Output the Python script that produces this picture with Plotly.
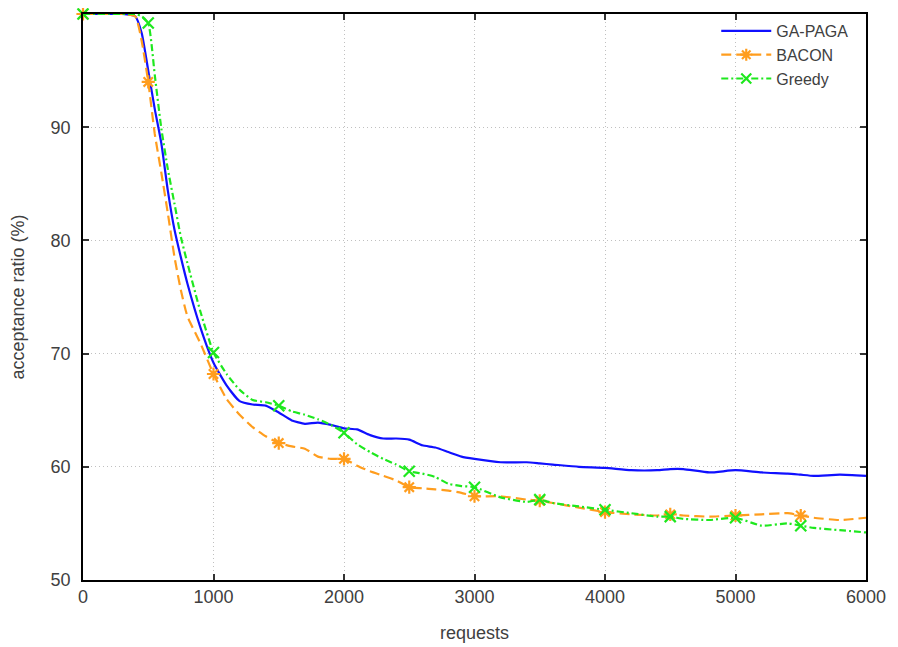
import plotly.graph_objects as go

# ---- data ----
requests = [0, 100, 200, 300, 400,
            450, 500, 550, 600, 650, 700, 750, 800,
            900, 1000, 1100, 1200, 1300, 1400, 1500, 1600, 1700, 1800, 1900, 2000,
            2100, 2200, 2300, 2400, 2500, 2600, 2700, 2800, 2900, 3000,
            3200, 3400, 3500, 3600, 3800, 4000,
            4200, 4400, 4500, 4600, 4800, 5000,
            5200, 5400, 5500, 5600, 5800, 6000]

ga_paga = [100, 100, 100, 100, 99.8,
           98.3, 95.0, 91.6, 88.6, 84.4, 81.0, 78.5, 76.2,
           72.3, 69.2, 67.2, 65.8, 65.5, 65.4, 64.8, 64.1, 63.8, 63.9, 63.7, 63.4,
           63.3, 62.8, 62.5, 62.5, 62.4, 61.9, 61.7, 61.3, 60.9, 60.7,
           60.4, 60.4, 60.3, 60.2, 60.0, 59.9,
           59.7, 59.7, 59.8, 59.8, 59.5, 59.7,
           59.5, 59.4, 59.3, 59.2, 59.3, 59.2]

bacon = [100, 100, 100, 100, 99.8,
         97.6, 94.0, 89.4, 86.0, 82.4, 78.6, 75.6, 73.3,
         70.9, 68.2, 66.0, 64.6, 63.5, 62.7, 62.1, 61.8, 61.6, 60.9, 60.7, 60.7,
         60.1, 59.6, 59.2, 58.8, 58.2, 58.1, 58.0, 57.9, 57.7, 57.4,
         57.4, 57.1, 57.0, 56.8, 56.4, 56.0,
         55.8, 55.7, 55.8, 55.7, 55.6, 55.7,
         55.8, 55.9, 55.7, 55.5, 55.3, 55.5]

greedy = [100, 100, 100, 100, 100,
          99.8, 99.2, 94.6, 89.9, 86.3, 83.3, 80.3, 78.0,
          73.7, 70.1, 68.2, 66.8, 65.9, 65.7, 65.4, 64.9, 64.6, 64.2, 63.7, 63.0,
          62.0, 61.3, 60.7, 60.2, 59.6, 59.4, 59.1, 58.5, 58.3, 58.2,
          57.3, 56.9, 57.1, 56.8, 56.5, 56.2,
          55.9, 55.6, 55.6, 55.4, 55.3, 55.5,
          54.8, 55.0, 54.8, 54.6, 54.4, 54.2]

marker_requests = [0, 500, 1000, 1500, 2000, 2500, 3000, 3500, 4000, 4500, 5000, 5500]

x_ticks = [0, 1000, 2000, 3000, 4000, 5000, 6000]
y_ticks = [50, 60, 70, 80, 90, 100]

# ---- styles ----
BLUE = "#1010ff"
ORANGE = "#ff9d1e"
GREEN = "#1ee81e"
FONT = "Liberation Sans, Arial, sans-serif"
TXT = "#404040"


def pick(series, xs):
    lookup = dict(zip(requests, series))
    return [lookup[v] for v in xs]


series = [
    ("GA-PAGA", ga_paga, BLUE, "solid", None),
    ("BACON", bacon, ORANGE, "10px,5px", "asterisk-open"),
    ("Greedy", greedy, GREEN, "7px,3px,2px,3px", "x-thin-open"),
]

fig = go.Figure()

for name, ys, color, dash, symbol in series:
    fig.add_trace(go.Scatter(
        x=requests, y=ys, mode="lines", name=name, legendgroup=name,
        showlegend=False,
        line=dict(color=color, width=2.2, dash=dash, shape="spline", smoothing=0.5),
        hoverinfo="skip"))
    if symbol:
        fig.add_trace(go.Scatter(
            x=marker_requests, y=pick(ys, marker_requests), mode="markers",
            name=name, legendgroup=name, showlegend=False,
            marker=dict(symbol=symbol, size=11, color=color,
                        line=dict(color=color, width=2.2)),
            cliponaxis=False))
    # legend entry
    fig.add_trace(go.Scatter(
        x=[None], y=[None], name=name, legendgroup=name,
        mode="lines+markers" if symbol else "lines",
        line=dict(color=color, width=2.2, dash=dash),
        marker=dict(symbol=symbol or "circle", size=10, color=color,
                    line=dict(color=color, width=2.2))))

axis_common = dict(
    showline=True, linecolor="#000000", linewidth=1.5, mirror="ticks",
    ticks="inside", ticklen=6, tickwidth=1.5, tickcolor="#333333",
    showgrid=True, gridcolor="#c0c0c0", griddash="1px,3px", gridwidth=1,
    zeroline=False, automargin=False,
    tickfont=dict(family=FONT, size=18, color=TXT),
)

# the page body has an 8px margin, so the figure is sized/placed to compensate
fig.update_layout(
    width=890, height=639,
    margin=dict(l=75, r=32, t=6, b=67),
    paper_bgcolor="white", plot_bgcolor="white",
    font=dict(family=FONT, color=TXT),
    xaxis=dict(range=[0, 6000], tickvals=x_ticks, ticklabelstandoff=0,
               title=dict(text="requests", font=dict(family=FONT, size=18, color=TXT), standoff=20),
               **axis_common),
    yaxis=dict(range=[50, 100], tickvals=y_ticks, ticklabelstandoff=7,
               title=dict(text="acceptance ratio (%)", font=dict(family=FONT, size=18, color=TXT), standoff=22),
               **axis_common),
    legend=dict(x=0.985, y=1.0, xanchor="right", yanchor="top",
                bgcolor="rgba(255,255,255,0)", borderwidth=0,
                font=dict(family=FONT, size=16, color=TXT),
                itemwidth=50, tracegroupgap=0),
    showlegend=True,
)

fig.write_html("out.html")
